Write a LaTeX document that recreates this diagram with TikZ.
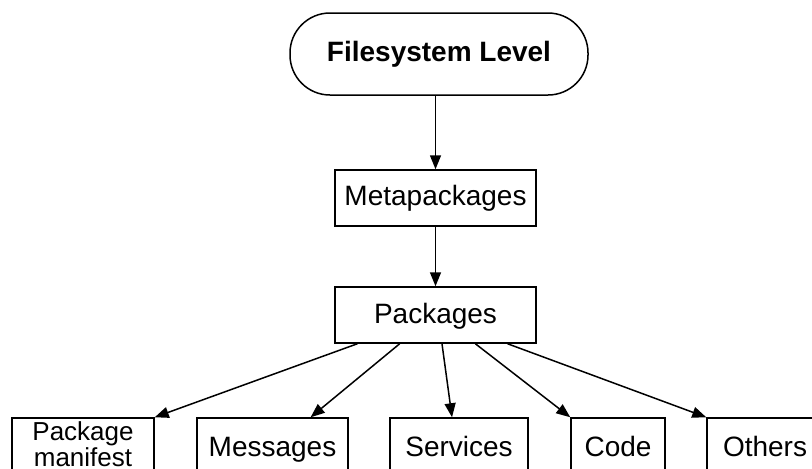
\documentclass[tikz,border=0pt]{standalone}
\usepackage{fontspec}
\setmainfont{Liberation Sans}
\usetikzlibrary{arrows.meta,calc}
\begin{document}
\begin{tikzpicture}[x=0.5pt,y=-0.5pt,
  box/.style={draw=black,line width=0.75pt,inner sep=0pt,align=center,
    font=\fontsize{14}{12.5}\selectfont},
  low/.style={box,minimum height=31pt,text height=10pt,text depth=3pt},
  arr/.style={line width=0.75pt,-{Triangle[length=7pt,width=5.5pt]}}]
\useasboundingbox (0,0) rectangle (812,468);
\clip (0,0) rectangle (812,468);
\fill[white] (0,0) rectangle (812,468);
\node[box,rounded corners=20pt,minimum width=149pt,minimum height=41pt,font=\fontsize{14}{16}\selectfont\bfseries] (fs) at (439,54) {Filesystem Level};
\node[box,minimum width=100.5pt,minimum height=28pt,text height=10pt,text depth=3pt] (meta) at (435.5,198) {Metapackages};
\node[box,minimum width=100.5pt,minimum height=28pt,text height=10pt,text depth=2pt] (pkg) at (435.5,315) {Packages};
\node[draw=black,line width=0.75pt,inner sep=0pt,minimum width=71pt,minimum height=31pt,text height=12pt,text depth=7.5pt,font=\fontsize{13}{12.5}\selectfont] (man) at (83,449) {\begin{tabular}{@{}c@{}}Package\\manifest\end{tabular}};
\node[low,minimum width=75.5pt] (msg) at (272.5,449) {Messages};
\node[low,minimum width=69pt] (srv) at (459,449) {Services};
\node[low,minimum width=47pt] (code) at (618,449) {Code};
\node[low,minimum width=58pt] (oth) at (765,449) {Others};
\draw[arr] (meta.north |- fs.south) -- (meta.north);
\draw[arr] (meta.south) -- (pkg.north);
\draw[arr] ($(pkg.south west)!0.114!(pkg.south east)$) -- (man.north east);
\draw[arr] ($(pkg.south west)!0.323!(pkg.south east)$) -- ($(msg.north west)!0.75!(msg.north east)$);
\draw[arr] ($(pkg.south west)!0.532!(pkg.south east)$) -- ($(srv.north west)!0.45!(srv.north east)$);
\draw[arr] ($(pkg.south west)!0.697!(pkg.south east)$) -- (code.north west);
\draw[arr] ($(pkg.south west)!0.856!(pkg.south east)$) -- (oth.north west);
\end{tikzpicture}
\end{document}
